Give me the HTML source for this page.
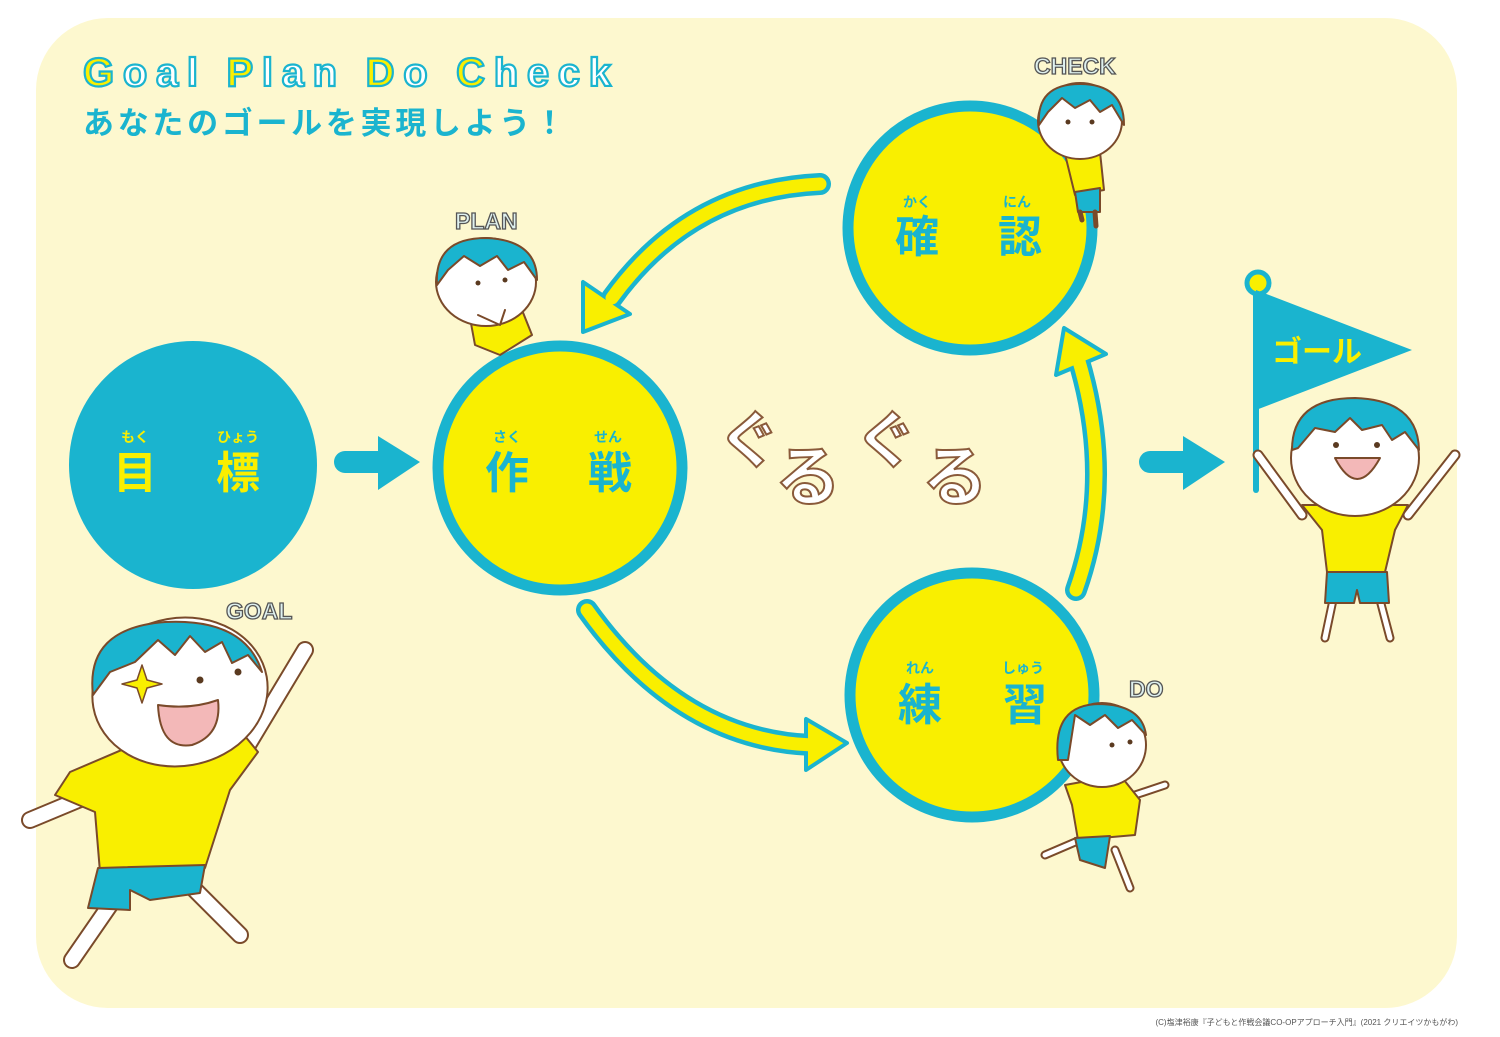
<!DOCTYPE html>
<html><head><meta charset="utf-8"><style>
html,body{margin:0;padding:0;background:#fff;}
svg{display:block;}
text{font-family:"Liberation Sans","Noto Sans CJK JP",sans-serif;}
</style></head><body>
<svg width="1500" height="1037" viewBox="0 0 1500 1037" xmlns="http://www.w3.org/2000/svg">
<rect x="36" y="18" width="1421" height="990" rx="72" fill="#fdf8cf"/>

<!-- Title -->
<text x="83" y="86" font-size="40" font-weight="bold" textLength="528" stroke="#1ab4cf" stroke-width="2.2" fill="#fff"><tspan fill="#f9ef00">G</tspan>oal <tspan fill="#f9ef00">P</tspan>lan <tspan fill="#f9ef00">D</tspan>o <tspan fill="#f9ef00">C</tspan>heck</text>
<text x="83" y="134" font-size="31" font-weight="bold" fill="#1ab4cf" textLength="482">あなたのゴールを実現しよう！</text>

<!-- Circles -->
<circle cx="193" cy="465" r="124" fill="#1ab4cf"/>
<circle cx="560" cy="468" r="122" fill="#f9ef00" stroke="#1ab4cf" stroke-width="11"/>
<circle cx="970" cy="228" r="122" fill="#f9ef00" stroke="#1ab4cf" stroke-width="11"/>
<circle cx="972" cy="695" r="122" fill="#f9ef00" stroke="#1ab4cf" stroke-width="11"/>

<!-- Circle labels -->
<g font-weight="bold" text-anchor="middle">
<text x="135" y="442" font-size="14" fill="#f9ef00">もく</text>
<text x="238" y="442" font-size="14" fill="#f9ef00">ひょう</text>
<text x="135" y="488" font-size="44" fill="#f9ef00">目</text>
<text x="238" y="488" font-size="44" fill="#f9ef00">標</text>
<text x="507" y="442" font-size="14" fill="#1ab4cf">さく</text>
<text x="608" y="442" font-size="14" fill="#1ab4cf">せん</text>
<text x="507" y="488" font-size="44" fill="#1ab4cf">作</text>
<text x="610" y="488" font-size="44" fill="#1ab4cf">戦</text>
<text x="917" y="207" font-size="14" fill="#1ab4cf">かく</text>
<text x="1017" y="207" font-size="14" fill="#1ab4cf">にん</text>
<text x="917" y="252" font-size="44" fill="#1ab4cf">確</text>
<text x="1020" y="252" font-size="44" fill="#1ab4cf">認</text>
<text x="920" y="673" font-size="14" fill="#1ab4cf">れん</text>
<text x="1023" y="673" font-size="14" fill="#1ab4cf">しゅう</text>
<text x="920" y="720" font-size="44" fill="#1ab4cf">練</text>
<text x="1025" y="720" font-size="44" fill="#1ab4cf">習</text>
</g>

<!-- Straight arrows -->
<line x1="345" y1="462" x2="382" y2="462" stroke="#1ab4cf" stroke-width="22" stroke-linecap="round"/>
<polygon points="378,436 378,490 420,462" fill="#1ab4cf"/>
<line x1="1150" y1="462" x2="1187" y2="462" stroke="#1ab4cf" stroke-width="22" stroke-linecap="round"/>
<polygon points="1183,436 1183,490 1225,462" fill="#1ab4cf"/>

<!-- Curved arrows -->
<g fill="none" stroke-linecap="round">
<path d="M820,184 Q690,190 612,298" stroke="#1ab4cf" stroke-width="22"/>
<path d="M587,610 Q680,740 812,745" stroke="#1ab4cf" stroke-width="22"/>
<path d="M1076,590 Q1115,480 1078,358" stroke="#1ab4cf" stroke-width="22"/>
</g>
<polygon points="583,282 583,332 630,314" fill="#f9ef00" stroke="#1ab4cf" stroke-width="4" stroke-linejoin="round"/>
<polygon points="806,719 806,770 847,743" fill="#f9ef00" stroke="#1ab4cf" stroke-width="4" stroke-linejoin="round"/>
<polygon points="1064,328 1056,375 1106,354" fill="#f9ef00" stroke="#1ab4cf" stroke-width="4" stroke-linejoin="round"/>
<g fill="none" stroke-linecap="round" stroke="#f9ef00" stroke-width="13">
<path d="M820,184 Q690,190 612,298"/>
<path d="M587,610 Q680,740 812,745"/>
<path d="M1076,590 Q1115,480 1078,358"/>
</g>

<!-- guruguru -->
<g font-weight="bold" fill="#fff" stroke="#8a5a3a" stroke-width="2">
<text x="718" y="462" font-size="62">ぐ</text>
<text x="775" y="500" font-size="66">る</text>
<text x="855" y="462" font-size="62">ぐ</text>
<text x="922" y="500" font-size="66">る</text>
</g>

<!-- Labels -->
<g font-weight="bold" fill="#dff1ef" stroke="#555" stroke-width="1.3">
<text x="455" y="229" font-size="23">PLAN</text>
<text x="1034" y="74" font-size="23">CHECK</text>
<text x="226" y="619" font-size="23">GOAL</text>
<text x="1129" y="697" font-size="23">DO</text>
</g>

<!-- Flag -->
<line x1="1256" y1="290" x2="1256" y2="490" stroke="#1ab4cf" stroke-width="6" stroke-linecap="round"/>
<circle cx="1258" cy="283" r="11" fill="#f9ef00" stroke="#1ab4cf" stroke-width="5"/>
<polygon points="1256,290 1412,350 1256,410" fill="#1ab4cf"/>
<text x="1272" y="362" font-size="30" font-weight="bold" fill="#f9ef00">ゴール</text>

<g stroke="#7a4a2a" stroke-width="2" stroke-linejoin="round" stroke-linecap="round">
<!-- Goal kid -->
<path d="M1302,515 L1258,455 M1408,515 L1455,455" stroke="#7a4a2a" stroke-width="11"/>
<path d="M1302,515 L1258,455 M1408,515 L1455,455" stroke="#fff" stroke-width="7"/>
<path d="M1333,600 L1325,638 M1380,600 L1390,638" stroke="#7a4a2a" stroke-width="9"/>
<path d="M1333,600 L1325,638 M1380,600 L1390,638" stroke="#fff" stroke-width="5"/>
<polygon points="1302,505 1408,505 1395,530 1385,572 1327,572 1322,530" fill="#f9ef00"/>
<polygon points="1327,572 1387,572 1389,603 1360,603 1357,590 1354,603 1325,603" fill="#1ab4cf"/>
<ellipse cx="1355" cy="458" rx="64" ry="58" fill="#fff"/>
<path d="M1292,450 Q1292,398 1355,398 Q1418,400 1419,450 L1405,432 L1392,440 L1382,425 L1362,430 L1350,418 L1335,432 L1315,428 L1298,448 Z" fill="#1ab4cf"/>
<circle cx="1336" cy="445" r="3" fill="#5a3a20" stroke="none"/>
<circle cx="1377" cy="445" r="3" fill="#5a3a20" stroke="none"/>
<path d="M1335,458 Q1357,500 1380,458 Z" fill="#f3b8b8"/>

<!-- Big kid -->
<path d="M248,745 L305,650 M90,795 L30,820 M110,905 L72,960 M190,885 L240,935" stroke="#7a4a2a" stroke-width="18"/>
<path d="M248,745 L305,650 M90,795 L30,820 M110,905 L72,960 M190,885 L240,935" stroke="#fff" stroke-width="14"/>
<polygon points="70,772 145,740 240,730 258,752 230,790 205,868 100,872 95,812 55,795" fill="#f9ef00"/>
<polygon points="98,868 205,865 200,893 150,900 130,890 130,910 88,908" fill="#1ab4cf"/>
<ellipse cx="180" cy="692" rx="88" ry="74" fill="#fff" transform="rotate(-10 180 692)"/>
<path d="M93,695 Q85,628 165,622 Q245,618 262,672 L248,655 L232,663 L222,642 L205,652 L190,636 L175,655 L158,640 L135,662 L110,672 Z" fill="#1ab4cf"/>
<circle cx="200" cy="680" r="3.5" fill="#5a3a20" stroke="none"/>
<circle cx="238" cy="672" r="3.5" fill="#5a3a20" stroke="none"/>
<path d="M158,705 Q160,750 192,745 Q222,735 218,700 Q190,710 158,705 Z" fill="#f3b8b8"/>
<path d="M142,665 L147,680 L162,684 L147,688 L142,703 L137,688 L122,684 L137,680 Z" fill="#f9ef00" stroke-width="1.5"/>

<!-- PLAN kid -->
<polygon points="470,318 520,305 532,335 500,355 475,345" fill="#f9ef00"/>
<ellipse cx="486" cy="282" rx="50" ry="44" fill="#fff"/>
<path d="M437,285 Q434,238 486,238 Q537,240 537,280 L524,262 L508,270 L497,256 L480,266 L464,256 L448,270 Z" fill="#1ab4cf"/>
<circle cx="478" cy="283" r="2.5" fill="#5a3a20" stroke="none"/>
<circle cx="505" cy="280" r="2.5" fill="#5a3a20" stroke="none"/>
<path d="M478,315 L500,325 L505,310" fill="#fff"/>

<!-- CHECK kid -->
<polygon points="1064,150 1100,152 1104,190 1075,195" fill="#f9ef00"/>
<polygon points="1075,192 1100,188 1100,212 1078,212" fill="#1ab4cf"/>
<path d="M1080,212 L1082,220 M1095,212 L1096,226" stroke-width="5"/>
<ellipse cx="1080" cy="121" rx="42" ry="38" fill="#fff"/>
<path d="M1039,125 Q1036,84 1080,84 Q1124,84 1124,125 L1112,105 L1100,112 L1090,100 L1075,108 L1062,98 L1048,112 Z" fill="#1ab4cf"/>
<circle cx="1068" cy="122" r="2.5" fill="#5a3a20" stroke="none"/>
<circle cx="1092" cy="122" r="2.5" fill="#5a3a20" stroke="none"/>

<!-- DO kid -->
<path d="M1080,840 L1045,855 M1115,850 L1130,888 M1135,795 L1165,785" stroke="#7a4a2a" stroke-width="9"/>
<path d="M1080,840 L1045,855 M1115,850 L1130,888 M1135,795 L1165,785" stroke="#fff" stroke-width="5"/>
<polygon points="1065,785 1120,775 1140,800 1135,835 1078,840 1072,805" fill="#f9ef00"/>
<polygon points="1075,838 1110,836 1105,868 1080,860" fill="#1ab4cf"/>
<ellipse cx="1102" cy="745" rx="44" ry="42" fill="#fff"/>
<path d="M1058,760 Q1052,704 1100,704 Q1142,705 1146,735 L1132,720 L1118,728 L1105,715 L1090,725 L1075,715 L1068,760 Z" fill="#1ab4cf"/>
<circle cx="1112" cy="745" r="2.5" fill="#5a3a20" stroke="none"/>
<circle cx="1130" cy="742" r="2.5" fill="#5a3a20" stroke="none"/>
</g>

<text x="1458" y="1025" font-size="8" fill="#555" text-anchor="end">(C)塩津裕康『子どもと作戦会議CO-OPアプローチ入門』(2021 クリエイツかもがわ)</text>
</svg>
</body></html>
